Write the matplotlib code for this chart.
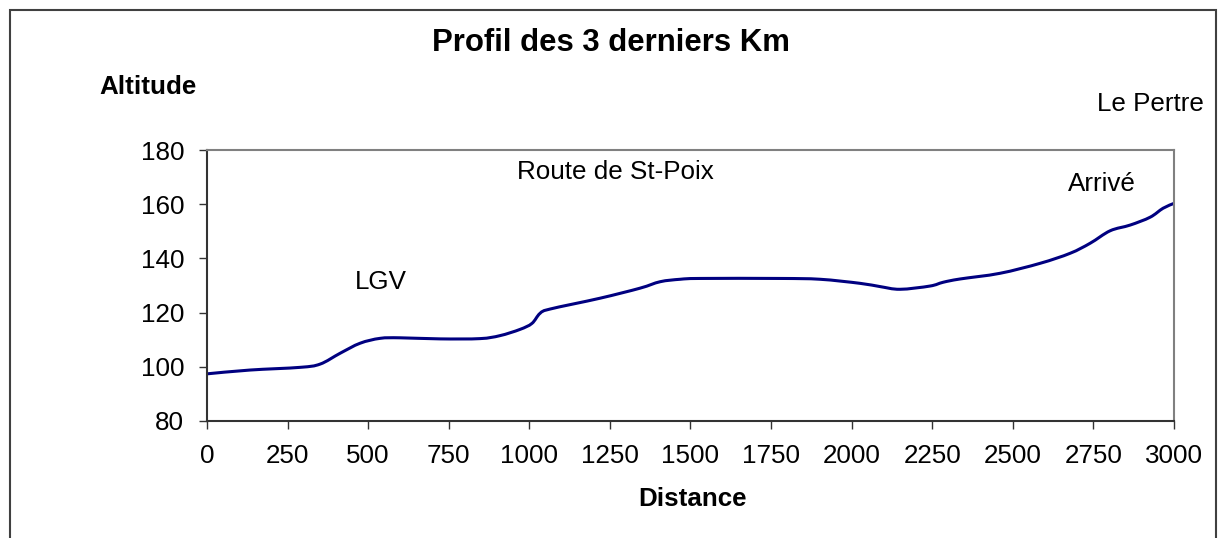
import matplotlib
matplotlib.use("Agg")
import matplotlib.pyplot as plt
from matplotlib.patches import Rectangle, PathPatch
from matplotlib.path import Path

plt.rcParams['font.family'] = ['Liberation Sans', 'DejaVu Sans']

title = "Profil des 3 derniers Km"
xlabel = "Distance"
ylabel = "Altitude"

distance = [0, 133, 289, 351, 413, 475, 537, 599, 723, 847, 909, 971, 1008,
            1033, 1064, 1219, 1343, 1406, 1468, 1530, 1778, 1902, 2026, 2088,
            2150, 2243, 2284, 2336, 2460, 2585, 2678, 2740, 2802, 2864, 2926,
            2966, 3000]
altitude = [97.4, 98.8, 99.8, 101.0, 105.0, 108.7, 110.5, 110.7, 110.3, 110.4,
            111.5, 113.8, 116.0, 119.7, 121.3, 125.3, 129.0, 131.4, 132.3, 132.6,
            132.6, 132.3, 130.8, 129.6, 128.6, 129.8, 131.2, 132.4, 134.5, 138.2,
            141.9, 145.6, 150.2, 152.3, 155.2, 158.5, 160.3]

xticks = list(range(0, 3001, 250))
yticks = list(range(80, 181, 20))

annotations = [("LGV", 540, 131.3), ("Route de St-Poix", 1266, 171.9), ("Arrivé", 2777, 167.5)]

fig = plt.figure(figsize=(12.21, 5.38), dpi=100)
ax = fig.add_axes([207/1221, 117/538, 967/1221, 271/538])

# smoothed line (Excel-like "smoothed line"): Catmull-Rom segments as Bezier curves
pts = list(zip(distance, altitude))
verts = [pts[0]]
codes = [Path.MOVETO]
n = len(pts)
for i in range(n - 1):
    p0 = pts[i - 1] if i > 0 else pts[i]
    p1 = pts[i]
    p2 = pts[i + 1]
    p3 = pts[i + 2] if i + 2 < n else pts[i + 1]
    c1 = (p1[0] + (p2[0] - p0[0]) / 6, p1[1] + (p2[1] - p0[1]) / 6)
    c2 = (p2[0] - (p3[0] - p1[0]) / 6, p2[1] - (p3[1] - p1[1]) / 6)
    verts += [c1, c2, p2]
    codes += [Path.CURVE4] * 3
ax.add_patch(PathPatch(Path(verts, codes), facecolor='none', edgecolor='#000080',
                       lw=2.2, capstyle='round', joinstyle='round'))

ax.set_xlim(0, 3000)
ax.set_ylim(80, 180)
ax.set_xticks(xticks)
ax.set_yticks(yticks)
ax.tick_params(direction='out', length=6, width=1, colors='#333333', labelcolor='black',
               labelsize=18.7, pad=10.5)
for s in ['top', 'right']:
    ax.spines[s].set_color('#808080')
    ax.spines[s].set_linewidth(1.5)
for s in ['left', 'bottom']:
    ax.spines[s].set_color('#333333')
    ax.spines[s].set_linewidth(1.5)

for txt, x, y in annotations:
    ax.text(x, y, txt, ha='center', va='center', fontsize=18.7)

fig.text(0.5, 1 - 43/538, title, ha='center', va='center', fontsize=22.4, fontweight='bold')
fig.text(148/1221, 1 - 87/538, ylabel, ha='center', va='center', fontsize=18.7, fontweight='bold')
fig.text(692/1221, 1 - 499/538, xlabel, ha='center', va='center', fontsize=18.7, fontweight='bold')
fig.text(1150/1221, 1 - 104/538, "Le Pertre", ha='center', va='center', fontsize=18.7)

frame = Rectangle((10/1221, -0.1), (1216-10)/1221, (1 - 10/538) + 0.1,
                  transform=fig.transFigure, fill=False, edgecolor='#404040', lw=1.5,
                  clip_on=False)
fig.add_artist(frame)

fig.savefig("out.png", dpi=100)
